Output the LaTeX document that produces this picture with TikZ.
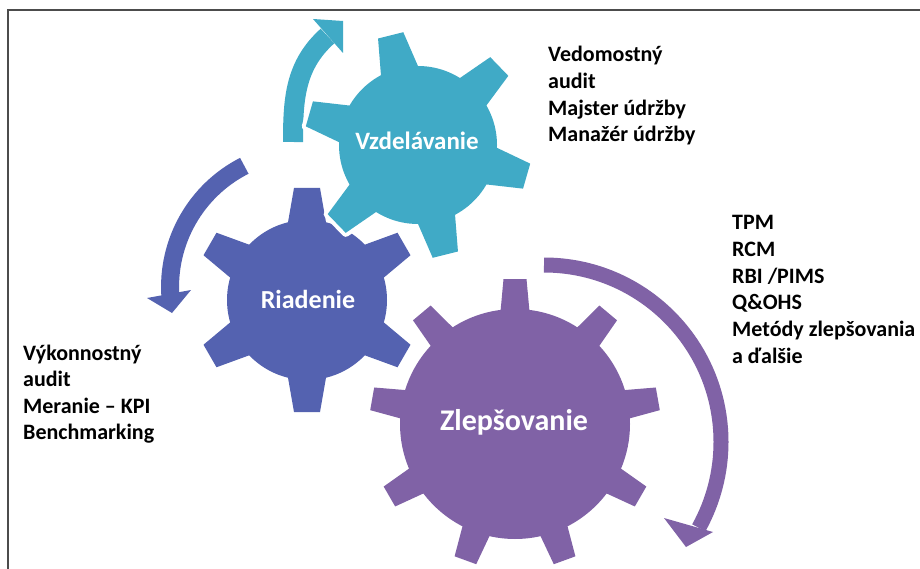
\documentclass[tikz,border=0pt]{standalone}
\usepackage{fontspec}
\setmainfont{Carlito}
\usetikzlibrary{calc}
\definecolor{gteal}{RGB}{64,170,198}
\definecolor{gblue}{RGB}{84,98,176}
\definecolor{gpurple}{RGB}{128,98,166}
\tikzset{
  gearlabel/.style={text=white, inner sep=0pt, anchor=base},
  sidetext/.style={text=black, font=\fontsize{22}{26.6}\selectfont\bfseries, inner sep=0pt, anchor=base west},
  frameline/.style={draw=black!70, line width=1.5},
  tealband/.style={draw=gteal, line width=20},
  blueband/.style={draw=gblue, line width=18},
  purpleband/.style={draw=gpurple, line width=15},
}
% cx cy rbody rout halfwidth-in halfwidth-out startangle teeth colour
\newcommand{\mygear}[9]{%
  \begin{scope}[shift={(#1,#2)}]
    \foreach \k in {1,...,#8}{%
      \pgfmathsetmacro{\ang}{#7+(\k-1)*360/#8}%
      \filldraw[white, line width=8, line join=round, rotate=\ang]
        (#3-8,-#5) -- (#4,-#6) -- (#4,#6) -- (#3-8,#5) -- cycle;}
    \filldraw[white, line width=8] (0,0) circle[radius=#3];
    \foreach \k in {1,...,#8}{%
      \pgfmathsetmacro{\ang}{#7+(\k-1)*360/#8}%
      \fill[#9, rotate=\ang]
        (#3-8,-#5) -- (#4,-#6) -- (#4,#6) -- (#3-8,#5) -- cycle;}
    \fill[#9] (0,0) circle[radius=#3];
  \end{scope}}
\begin{document}
\begin{tikzpicture}[x=1pt,y=1pt]
\useasboundingbox (0,0) rectangle (920,-569);
\fill[white] (0,0) rectangle (920,-569);
% frame
\draw[frameline] (8,-569) -- (8,-10) -- (920,-10);

% arrows
\coordinate (tA) at (293,-142);
\coordinate (tB) at (327.5,-36);
\coordinate (tW1) at (313,-19);
\coordinate (tW2) at (343,-53);
\coordinate (tT) at (343,-21);
\draw[tealband] (tA) to[out=90,in=222] (tB);
\fill[gteal] (tW1) -- (tT) -- (tW2) -- cycle;

\coordinate (bA) at (244.3,-165.8);
\coordinate (bW1) at (147,-298);
\coordinate (bW2) at (191,-290);
\coordinate (bT) at (172,-313);
\draw[blueband] (bA) arc[start angle=117, end angle=184, radius=136];
\fill[gblue] (bW1) -- (bT) -- (bW2) -- cycle;

\coordinate (pA) at (544,-265);
\coordinate (pW1) at (664,-518);
\coordinate (pW2) at (713,-532);
\coordinate (pT) at (686,-547);
\draw[purpleband] (pA) arc[start angle=90, end angle=-29, radius=177];
\fill[gpurple] (pW1) -- (pT) -- (pW2) -- cycle;

% gears
\mygear{307}{-300}{80}{112}{20}{13}{30}{6}{gblue}
\mygear{418}{-145}{79}{113}{20}{13}{44}{6}{gteal}
\mygear{515}{-424}{115}{145}{15}{11.5}{10}{9}{gpurple}

\node[gearlabel, font=\fontsize{25}{30}\selectfont\bfseries] (vz) at (417,-150) {Vzdelávanie};
\node[gearlabel, font=\fontsize{26}{31}\selectfont\bfseries] (ri) at (308,-308) {Riadenie};
\node[gearlabel, font=\fontsize{30}{36}\selectfont\bfseries] (zl) at (514,-430) {Zlepšovanie};

% side texts
\node[sidetext] (tv) at (548,-62) {\begin{tabular}[t]{@{}l@{}}Vedomostný\\audit\\Majster údržby\\Manažér údržby\end{tabular}};
\node[sidetext] (tz) at (732,-230) {\begin{tabular}[t]{@{}l@{}}TPM\\RCM\\RBI /PIMS\\Q\&OHS\\Metódy zlepšovania\\a ďalšie\end{tabular}};
\node[sidetext] (tr) at (23,-360) {\begin{tabular}[t]{@{}l@{}}Výkonnostný\\audit\\Meranie – KPI\\Benchmarking\end{tabular}};
\end{tikzpicture}
\end{document}
